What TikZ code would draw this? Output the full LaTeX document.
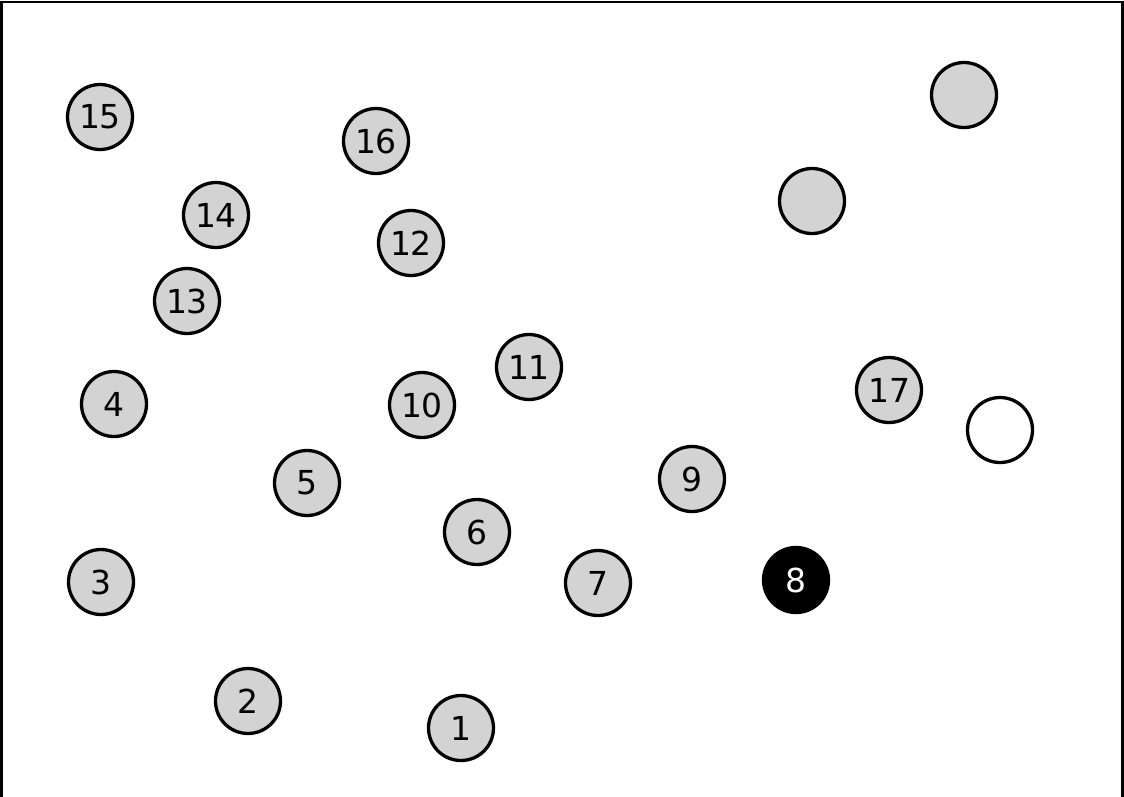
\documentclass[tikz,border=0pt]{standalone}
\usepackage{fontspec}
\setmainfont{DejaVu Sans}
\definecolor{ballgray}{RGB}{211,211,211}
\begin{document}
\begin{tikzpicture}[x=1pt, y=-1pt,
    ball/.style={draw, circle, line width=3.3pt, fill=ballgray, minimum size=65pt, inner sep=0pt, font=\fontsize{33}{33}\selectfont},
    blackball/.style={ball, fill=black, text=white},
    whiteball/.style={ball, fill=white}]
    \useasboundingbox (0,0) rectangle (1124,796);
    % Frame
    \draw[line width=2.6pt] (1.5,800) -- (1.5,2) -- (1122.5,2) -- (1122.5,800);

    % Nodes
    \node[ball] (n15) at (100,117) {15};
    \node[ball] (n16) at (376,141) {16};
    \node[ball] (n14) at (216,215) {14};
    \node[ball] (n12) at (411,243) {12};
    \node[ball] (n13) at (187,301) {13};
    \node[ball] (n11) at (529,367) {11};
    \node[ball] (n4) at (114,404) {4};
    \node[ball] (n10) at (422,405) {10};
    \node[ball] (n17) at (889,390) {17};
    \node[ball] (n5) at (307,483) {5};
    \node[ball] (n9) at (692,479) {9};
    \node[ball] (n6) at (477,532) {6};
    \node[ball] (n3) at (101,582) {3};
    \node[ball] (n7) at (598,583) {7};
    \node[blackball] (n8) at (796,580) {8};
    \node[ball] (n2) at (248,701) {2};
    \node[ball] (n1) at (461,728) {1};

    % Unlabelled balls
    \node[ball] (ga) at (964,95) {};
    \node[ball] (gb) at (812,201) {};
    \node[whiteball] (wa) at (1000,430) {};
\end{tikzpicture}
\end{document}
